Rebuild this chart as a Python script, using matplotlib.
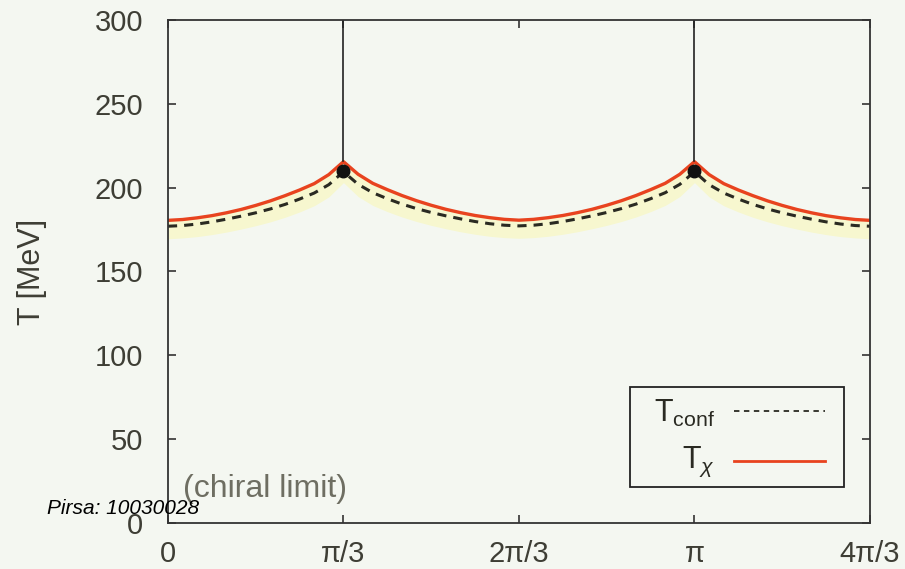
"""
Deconfinement / chiral transition temperature vs imaginary chemical potential angle
"""

import numpy as np
import matplotlib.pyplot as plt
from matplotlib.patches import Rectangle
from matplotlib.lines import Line2D

plt.rcParams['font.family'] = ['Liberation Sans', 'DejaVu Sans']
plt.rcParams['mathtext.fontset'] = 'custom'
plt.rcParams['mathtext.rm'] = 'Liberation Sans'
plt.rcParams['mathtext.it'] = 'Liberation Sans:italic'

# angle theta in units of pi/36 steps (12 samples per pi/3)
theta_steps = np.arange(49)
theta = theta_steps * np.pi / 36

# chiral transition T_chi (MeV)
T_chi = [180.5, 181.0, 182.0, 183.3, 185.0, 187.0, 189.4, 192.1, 195.2, 198.6, 202.4, 207.8,
         215.5, 208.0, 202.6, 198.8, 195.3, 192.2, 189.5, 187.1, 185.1, 183.4, 182.1, 181.1,
         180.6, 181.1, 182.1, 183.4, 185.1, 187.1, 189.5, 192.2, 195.3, 198.8, 202.6, 208.0,
         215.5, 207.8, 202.4, 198.6, 195.2, 192.1, 189.4, 187.0, 185.0, 183.3, 182.0, 181.0,
         180.5]

# deconfinement T_conf (MeV)
T_conf = [177.0, 177.4, 178.3, 179.6, 181.2, 183.0, 185.0, 187.3, 190.0, 193.2, 196.8, 201.8,
          209.5, 202.0, 197.0, 193.4, 190.2, 187.5, 185.2, 183.2, 181.4, 179.8, 178.5, 177.6,
          177.2, 177.6, 178.5, 179.8, 181.4, 183.2, 185.2, 187.5, 190.2, 193.4, 197.0, 202.0,
          209.5, 201.8, 196.8, 193.2, 190.0, 187.3, 185.0, 183.0, 181.2, 179.6, 178.3, 177.4,
          177.0]

# lower edge of the pale band
band_lo = [169.5, 170.0, 170.8, 172.0, 173.5, 175.3, 177.3, 179.6, 182.3, 185.5, 189.2, 194.5,
           203.0, 194.7, 189.4, 185.7, 182.5, 179.8, 177.5, 175.5, 173.7, 172.2, 171.0, 170.2,
           169.8, 170.2, 171.0, 172.2, 173.7, 175.5, 177.5, 179.8, 182.5, 185.7, 189.4, 194.7,
           203.0, 194.5, 189.2, 185.5, 182.3, 179.6, 177.3, 175.3, 173.5, 172.0, 170.8, 170.0,
           169.5]

# Roberge-Weiss endpoints
rw_theta = [np.pi / 3, np.pi]
rw_T = [210, 210]
rw_top = [216, 216]

xticks = [0, np.pi / 3, 2 * np.pi / 3, np.pi, 4 * np.pi / 3]
xticklabels = ['0', 'π/3', '2π/3', 'π', '4π/3']
yticks = [0, 50, 100, 150, 200, 250, 300]

bg = '#f4f7f1'
txt = '#3e3e35'
red = '#e8431f'

fig = plt.figure(figsize=(9.05, 5.69), dpi=100, facecolor=bg)
ax = fig.add_axes([0.1856, 0.0808, 0.7757, 0.8841], facecolor=bg)

ax.fill_between(theta, band_lo, T_chi, color='#f7f7cf', lw=0)
ax.plot(theta, T_conf, color='#2a2a22', lw=2.2, ls=(0, (3, 2.3)))
ax.plot(theta, T_chi, color=red, lw=2.4)
for xv, y0 in zip(rw_theta, rw_top):
    ax.plot([xv, xv], [y0, 300], color='#222222', lw=1.2)
ax.plot(rw_theta, rw_T, 'o', color='#111111', ms=9, zorder=5)

ax.set_xlim(0, 4 * np.pi / 3)
ax.set_ylim(0, 300)
ax.set_xticks(xticks)
ax.set_xticklabels(xticklabels)
ax.set_yticks(yticks)
ax.tick_params(direction='in', length=6, width=1.2, colors='#333333',
               labelcolor=txt, labelsize=21, top=True, right=True)
ax.tick_params(axis='x', pad=12)
ax.tick_params(axis='y', pad=18)
for s in ax.spines.values():
    s.set_color('#333333')
    s.set_linewidth(1.3)

ax.set_ylabel('T [MeV]', fontsize=22, color=txt)
ax.yaxis.set_label_coords(-0.173, 0.5)

# legend box
ax.add_patch(Rectangle((0.6575, 0.0715), 0.305, 0.199, transform=ax.transAxes,
                       fill=False, ec='#222222', lw=1.3, zorder=6))
ax.text(0.779, 0.218, r'T$_{\rm conf}$', transform=ax.transAxes, ha='right', va='center',
        fontsize=22, color='#2a2a22')
ax.add_line(Line2D([0.806, 0.936], [0.222, 0.222], transform=ax.transAxes,
                   color='#2a2a22', lw=1.3, ls=(0, (3, 2.5))))
ax.text(0.779, 0.122, r'T$_\chi$', transform=ax.transAxes, ha='right', va='center',
        fontsize=22, color='#2a2a22')
ax.add_line(Line2D([0.806, 0.936], [0.124, 0.124], transform=ax.transAxes,
                   color=red, lw=2.0))

ax.text(0.021, 0.068, '(chiral limit)', transform=ax.transAxes, ha='left', va='center',
        fontsize=23, color='#6e6e62')

fig.text(0.052, 0.107, 'Pirsa: 10030028', fontsize=15, style='italic', color='black',
         ha='left', va='center')

plt.savefig('out.png', dpi=100, facecolor=bg)
